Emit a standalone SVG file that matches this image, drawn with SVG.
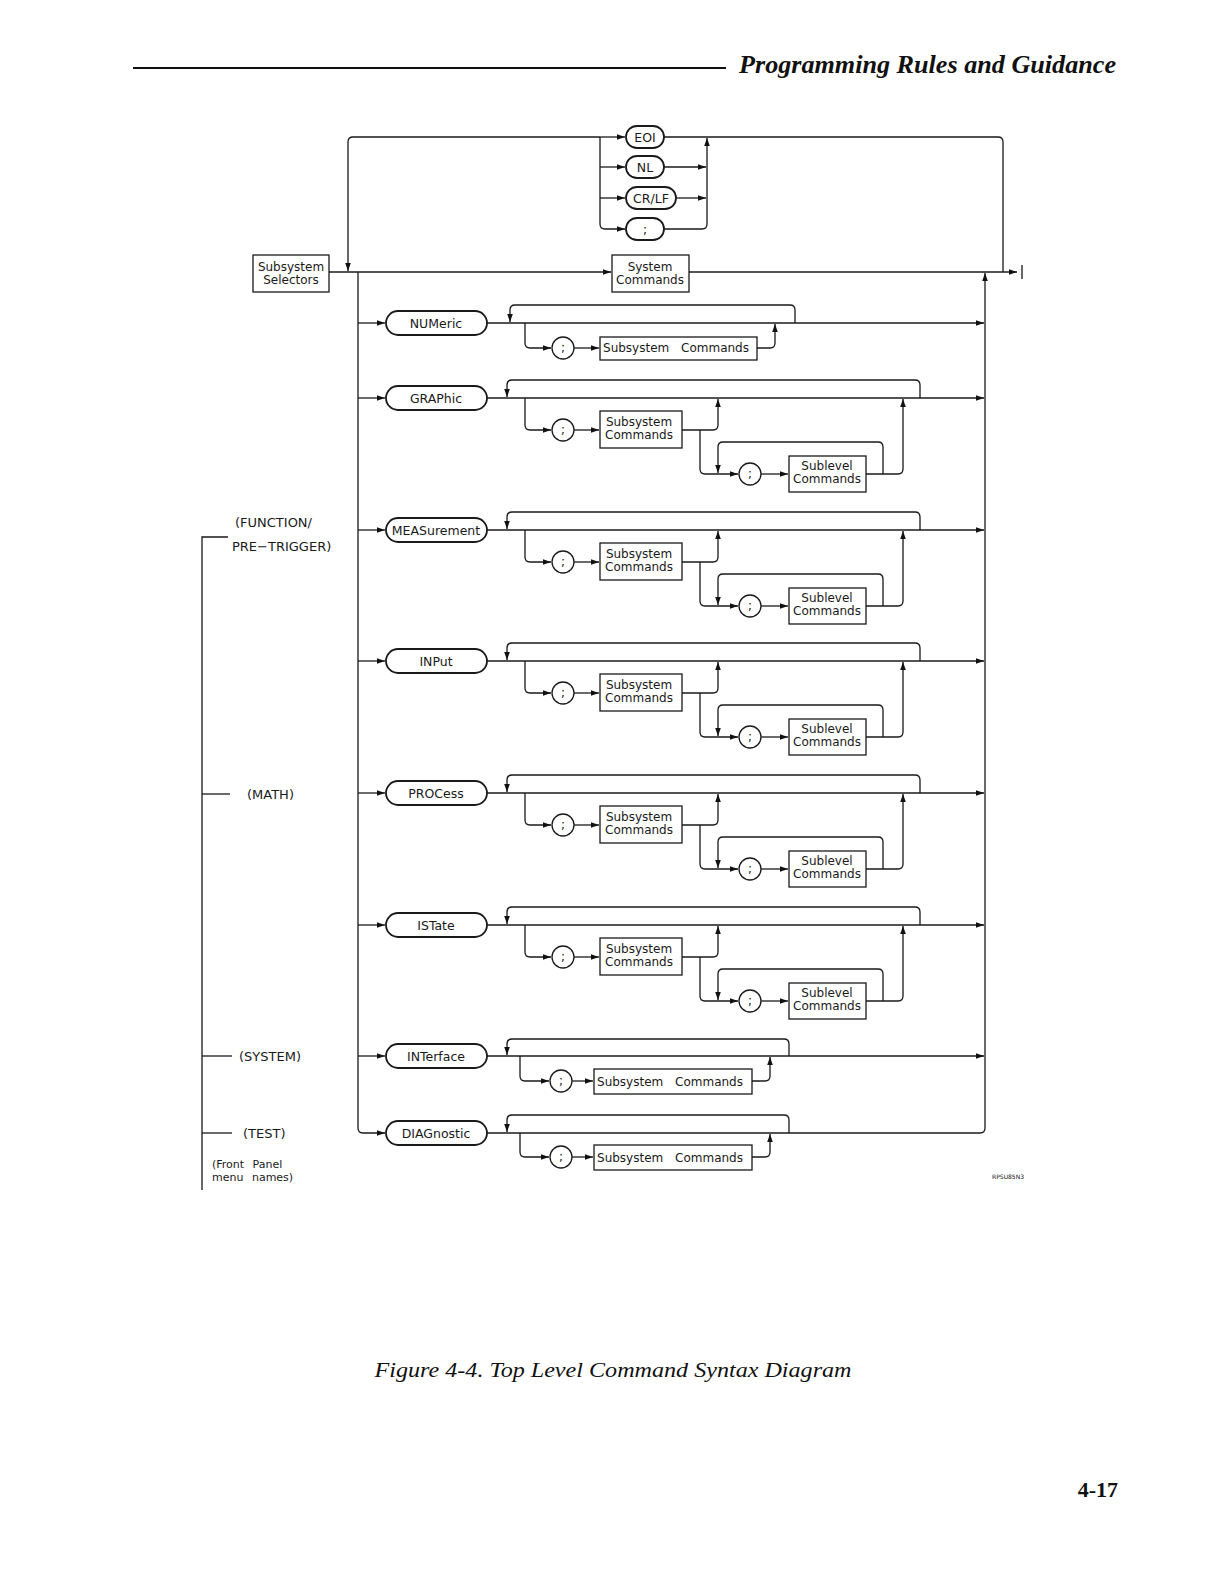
<svg xmlns="http://www.w3.org/2000/svg" width="1224" height="1584" viewBox="0 0 1224 1584">
<defs>
<marker id="ar" viewBox="0 0 10 10" refX="10" refY="5" markerWidth="8" markerHeight="8" markerUnits="userSpaceOnUse" orient="auto"><path d="M0,1.5 L10,5 L0,8.5 z" fill="#111"/></marker>
<style>
.ln{fill:none;stroke:#1a1a1a;stroke-width:1.3}
.a{marker-end:url(#ar)}
.bx{fill:#fff;stroke:#1a1a1a;stroke-width:1.3}
.pl{fill:#fff;stroke:#1a1a1a;stroke-width:1.8}
.t{font-family:"DejaVu Sans",sans-serif;font-size:12px;fill:#1a1a1a;text-anchor:middle}
.tp{font-family:"DejaVu Sans",sans-serif;font-size:12.5px;fill:#1a1a1a;text-anchor:middle}
.tl{font-family:"DejaVu Sans",sans-serif;font-size:13px;fill:#1a1a1a}
.ts{font-family:"DejaVu Sans",sans-serif;font-size:11px;fill:#1a1a1a}
</style>
</defs>
<rect width="1224" height="1584" fill="#fff"/>

<!-- header -->
<line x1="133" y1="68" x2="726" y2="68" stroke="#111" stroke-width="2"/>
<text x="1116" y="73" text-anchor="end" font-family="Liberation Serif, serif" font-style="italic" font-weight="bold" font-size="26" textLength="377" lengthAdjust="spacingAndGlyphs" fill="#111">Programming Rules and Guidance</text>

<g id="connectors">
<!-- top section -->
<path class="ln a" d="M329 272 H611"/>
<path class="ln a" d="M689 272 H1017"/>
<path class="ln" d="M1022 265 V279"/>
<path class="ln" d="M664 137 H998 Q1003 137 1003 142 V272"/>
<path class="ln a" d="M600 137 H353 Q348 137 348 142 V271"/>
<path class="ln a" d="M600 137 H625"/>
<path class="ln a" d="M600 137 V224 Q600 229 605 229 H625"/>
<path class="ln a" d="M600 167 H625"/>
<path class="ln a" d="M600 198 H625"/>
<path class="ln a" d="M664 167 H706"/>
<path class="ln a" d="M676 198 H706"/>
<path class="ln a" d="M664 229 H702 Q707 229 707 224 V138"/>
<!-- left distribution -->
<path class="ln a" d="M358 272 V1128 Q358 1133 363 1133 H385"/>
<path class="ln a" d="M358 323 H385"/>
<path class="ln a" d="M358 398 H385"/>
<path class="ln a" d="M358 530 H385"/>
<path class="ln a" d="M358 661 H385"/>
<path class="ln a" d="M358 793 H385"/>
<path class="ln a" d="M358 925 H385"/>
<path class="ln a" d="M358 1056 H385"/>
<!-- right collector -->
<path class="ln a" d="M487 1133 H980 Q985 1133 985 1128 V273"/>

<!-- NUMeric row -->
<path class="ln a" d="M487 323 H984"/>
<path class="ln a" d="M795 323 V310 Q795 305 790 305 H515 Q510 305 510 310 V322"/>
<path class="ln a" d="M525 323 V343 Q525 348 530 348 H551"/>
<path class="ln a" d="M574 348 H599"/>
<path class="ln a" d="M757 348 H770 Q775 348 775 343 V324"/>

<!-- GRAPhic row y0=398 -->
<path class="ln a" d="M487 398 H984"/>
<path class="ln a" d="M920 398 V385 Q920 380 915 380 H512 Q507 380 507 385 V397"/>
<path class="ln a" d="M525 398 V425 Q525 430 530 430 H551"/>
<path class="ln a" d="M574 430 H599"/>
<path class="ln a" d="M682 430 H713 Q718 430 718 425 V399"/>
<path class="ln a" d="M700 430 V469 Q700 474 705 474 H738"/>
<path class="ln a" d="M761 474 H788"/>
<path class="ln a" d="M866 474 H898 Q903 474 903 469 V399"/>
<path class="ln a" d="M883 474 V447 Q883 442 878 442 H723 Q718 442 718 447 V473"/>

<!-- MEASurement row y0=530 -->
<path class="ln a" d="M487 530 H984"/>
<path class="ln a" d="M920 530 V517 Q920 512 915 512 H512 Q507 512 507 517 V529"/>
<path class="ln a" d="M525 530 V557 Q525 562 530 562 H551"/>
<path class="ln a" d="M574 562 H599"/>
<path class="ln a" d="M682 562 H713 Q718 562 718 557 V531"/>
<path class="ln a" d="M700 562 V601 Q700 606 705 606 H738"/>
<path class="ln a" d="M761 606 H788"/>
<path class="ln a" d="M866 606 H898 Q903 606 903 601 V531"/>
<path class="ln a" d="M883 606 V579 Q883 574 878 574 H723 Q718 574 718 579 V605"/>

<!-- INPut row y0=661 -->
<path class="ln a" d="M487 661 H984"/>
<path class="ln a" d="M920 661 V648 Q920 643 915 643 H512 Q507 643 507 648 V660"/>
<path class="ln a" d="M525 661 V688 Q525 693 530 693 H551"/>
<path class="ln a" d="M574 693 H599"/>
<path class="ln a" d="M682 693 H713 Q718 693 718 688 V662"/>
<path class="ln a" d="M700 693 V732 Q700 737 705 737 H738"/>
<path class="ln a" d="M761 737 H788"/>
<path class="ln a" d="M866 737 H898 Q903 737 903 732 V662"/>
<path class="ln a" d="M883 737 V710 Q883 705 878 705 H723 Q718 705 718 710 V736"/>

<!-- PROCess row y0=793 -->
<path class="ln a" d="M487 793 H984"/>
<path class="ln a" d="M920 793 V780 Q920 775 915 775 H512 Q507 775 507 780 V792"/>
<path class="ln a" d="M525 793 V820 Q525 825 530 825 H551"/>
<path class="ln a" d="M574 825 H599"/>
<path class="ln a" d="M682 825 H713 Q718 825 718 820 V794"/>
<path class="ln a" d="M700 825 V864 Q700 869 705 869 H738"/>
<path class="ln a" d="M761 869 H788"/>
<path class="ln a" d="M866 869 H898 Q903 869 903 864 V794"/>
<path class="ln a" d="M883 869 V842 Q883 837 878 837 H723 Q718 837 718 842 V868"/>

<!-- ISTate row y0=925 -->
<path class="ln a" d="M487 925 H984"/>
<path class="ln a" d="M920 925 V912 Q920 907 915 907 H512 Q507 907 507 912 V924"/>
<path class="ln a" d="M525 925 V952 Q525 957 530 957 H551"/>
<path class="ln a" d="M574 957 H599"/>
<path class="ln a" d="M682 957 H713 Q718 957 718 952 V926"/>
<path class="ln a" d="M700 957 V996 Q700 1001 705 1001 H738"/>
<path class="ln a" d="M761 1001 H788"/>
<path class="ln a" d="M866 1001 H898 Q903 1001 903 996 V926"/>
<path class="ln a" d="M883 1001 V974 Q883 969 878 969 H723 Q718 969 718 974 V1000"/>

<!-- INTerface row -->
<path class="ln a" d="M487 1056 H984"/>
<path class="ln a" d="M789 1056 V1044 Q789 1039 784 1039 H512 Q507 1039 507 1044 V1055"/>
<path class="ln a" d="M520 1056 V1076 Q520 1081 525 1081 H549"/>
<path class="ln a" d="M572 1081 H593"/>
<path class="ln a" d="M752 1081 H765 Q770 1081 770 1076 V1057"/>

<!-- DIAGnostic row -->
<path class="ln a" d="M789 1133 V1120 Q789 1115 784 1115 H512 Q507 1115 507 1120 V1132"/>
<path class="ln a" d="M520 1133 V1152 Q520 1157 525 1157 H549"/>
<path class="ln a" d="M572 1157 H593"/>
<path class="ln a" d="M752 1157 H765 Q770 1157 770 1152 V1134"/>

<!-- front panel menu bracket -->
<path class="ln" d="M228 537 H202 V1190"/>
<path class="ln" d="M202 794 H230"/>
<path class="ln" d="M202 1056 H232"/>
<path class="ln" d="M202 1133 H232"/>
</g>

<!-- top nodes -->
<g id="subsystem-selectors"><rect class="bx" x="253" y="255" width="76" height="37"/><text class="t" x="291" y="271">Subsystem</text><text class="t" x="291" y="284">Selectors</text></g>
<g id="system-commands"><rect class="bx" x="612" y="255" width="77" height="37"/><text class="t" x="650" y="271">System</text><text class="t" x="650" y="284">Commands</text></g>
<g id="eoi"><rect class="pl" x="626" y="126" width="38" height="22" rx="11"/><text class="tp" x="645" y="142">EOI</text></g>
<g id="nl"><rect class="pl" x="626" y="156" width="38" height="22" rx="11"/><text class="tp" x="645" y="172">NL</text></g>
<g id="crlf"><rect class="pl" x="626" y="187" width="50" height="22" rx="11"/><text class="tp" x="651" y="203">CR/LF</text></g>
<g id="semi-top"><rect class="pl" x="626" y="218" width="38" height="22" rx="11"/><text class="tp" x="645" y="234">;</text></g>

<!-- NUMeric -->
<g id="numeric"><rect class="pl" x="386" y="311" width="101" height="24" rx="12"/><text class="tp" x="436" y="328">NUMeric</text></g>
<g id="numeric-semi"><circle class="bx" cx="563" cy="348" r="11"/><text class="t" x="563" y="352">;</text></g>
<g id="numeric-sub"><rect class="bx" x="600" y="337" width="157" height="23"/><text class="t" x="676" y="352" word-spacing="8">Subsystem Commands</text></g>

<!-- GRAPhic -->
<g id="graphic"><rect class="pl" x="386" y="386" width="101" height="24" rx="12"/><text class="tp" x="436" y="403">GRAPhic</text></g>
<g id="graphic-semi1"><circle class="bx" cx="563" cy="430" r="11"/><text class="t" x="563" y="434">;</text></g>
<g id="graphic-sub"><rect class="bx" x="600" y="411" width="82" height="37"/><text class="t" x="639" y="426">Subsystem</text><text class="t" x="639" y="439">Commands</text></g>
<g id="graphic-semi2"><circle class="bx" cx="750" cy="474" r="11"/><text class="t" x="750" y="478">;</text></g>
<g id="graphic-sublevel"><rect class="bx" x="789" y="456" width="77" height="36"/><text class="t" x="827" y="470">Sublevel</text><text class="t" x="827" y="483">Commands</text></g>

<!-- MEASurement -->
<g id="measurement"><rect class="pl" x="386" y="518" width="101" height="24" rx="12"/><text class="tp" x="436" y="535">MEASurement</text></g>
<g id="measurement-semi1"><circle class="bx" cx="563" cy="562" r="11"/><text class="t" x="563" y="566">;</text></g>
<g id="measurement-sub"><rect class="bx" x="600" y="543" width="82" height="37"/><text class="t" x="639" y="558">Subsystem</text><text class="t" x="639" y="571">Commands</text></g>
<g id="measurement-semi2"><circle class="bx" cx="750" cy="606" r="11"/><text class="t" x="750" y="610">;</text></g>
<g id="measurement-sublevel"><rect class="bx" x="789" y="588" width="77" height="36"/><text class="t" x="827" y="602">Sublevel</text><text class="t" x="827" y="615">Commands</text></g>

<!-- INPut -->
<g id="input"><rect class="pl" x="386" y="649" width="101" height="24" rx="12"/><text class="tp" x="436" y="666">INPut</text></g>
<g id="input-semi1"><circle class="bx" cx="563" cy="693" r="11"/><text class="t" x="563" y="697">;</text></g>
<g id="input-sub"><rect class="bx" x="600" y="674" width="82" height="37"/><text class="t" x="639" y="689">Subsystem</text><text class="t" x="639" y="702">Commands</text></g>
<g id="input-semi2"><circle class="bx" cx="750" cy="737" r="11"/><text class="t" x="750" y="741">;</text></g>
<g id="input-sublevel"><rect class="bx" x="789" y="719" width="77" height="36"/><text class="t" x="827" y="733">Sublevel</text><text class="t" x="827" y="746">Commands</text></g>

<!-- PROCess -->
<g id="process"><rect class="pl" x="386" y="781" width="101" height="24" rx="12"/><text class="tp" x="436" y="798">PROCess</text></g>
<g id="process-semi1"><circle class="bx" cx="563" cy="825" r="11"/><text class="t" x="563" y="829">;</text></g>
<g id="process-sub"><rect class="bx" x="600" y="806" width="82" height="37"/><text class="t" x="639" y="821">Subsystem</text><text class="t" x="639" y="834">Commands</text></g>
<g id="process-semi2"><circle class="bx" cx="750" cy="869" r="11"/><text class="t" x="750" y="873">;</text></g>
<g id="process-sublevel"><rect class="bx" x="789" y="851" width="77" height="36"/><text class="t" x="827" y="865">Sublevel</text><text class="t" x="827" y="878">Commands</text></g>

<!-- ISTate -->
<g id="istate"><rect class="pl" x="386" y="913" width="101" height="24" rx="12"/><text class="tp" x="436" y="930">ISTate</text></g>
<g id="istate-semi1"><circle class="bx" cx="563" cy="957" r="11"/><text class="t" x="563" y="961">;</text></g>
<g id="istate-sub"><rect class="bx" x="600" y="938" width="82" height="37"/><text class="t" x="639" y="953">Subsystem</text><text class="t" x="639" y="966">Commands</text></g>
<g id="istate-semi2"><circle class="bx" cx="750" cy="1001" r="11"/><text class="t" x="750" y="1005">;</text></g>
<g id="istate-sublevel"><rect class="bx" x="789" y="983" width="77" height="36"/><text class="t" x="827" y="997">Sublevel</text><text class="t" x="827" y="1010">Commands</text></g>

<!-- INTerface -->
<g id="interface"><rect class="pl" x="386" y="1044" width="101" height="24" rx="12"/><text class="tp" x="436" y="1061">INTerface</text></g>
<g id="interface-semi"><circle class="bx" cx="561" cy="1081" r="11"/><text class="t" x="561" y="1085">;</text></g>
<g id="interface-sub"><rect class="bx" x="594" y="1069" width="158" height="25"/><text class="t" x="670" y="1086" word-spacing="8">Subsystem Commands</text></g>

<!-- DIAGnostic -->
<g id="diagnostic"><rect class="pl" x="386" y="1121" width="101" height="24" rx="12"/><text class="tp" x="436" y="1138">DIAGnostic</text></g>
<g id="diagnostic-semi"><circle class="bx" cx="561" cy="1157" r="11"/><text class="t" x="561" y="1161">;</text></g>
<g id="diagnostic-sub"><rect class="bx" x="594" y="1145" width="158" height="25"/><text class="t" x="670" y="1162" word-spacing="8">Subsystem Commands</text></g>

<!-- left labels -->
<g id="menu-labels">
<text class="tl" x="235" y="527">(FUNCTION/</text>
<text class="tl" x="232" y="551">PRE−TRIGGER)</text>
<text class="tl" x="247" y="799">(MATH)</text>
<text class="tl" x="239" y="1061">(SYSTEM)</text>
<text class="tl" x="243" y="1138">(TEST)</text>
<text class="ts" x="212" y="1168" word-spacing="5">(Front Panel</text>
<text class="ts" x="212" y="1181" word-spacing="5">menu names)</text>
</g>

<text x="1024" y="1179" text-anchor="end" font-family="DejaVu Sans, sans-serif" font-size="6" fill="#111">RPSU85N3</text>

<text x="613" y="1377" text-anchor="middle" font-family="Liberation Serif, serif" font-style="italic" font-size="22" textLength="477" lengthAdjust="spacingAndGlyphs" fill="#111">Figure 4-4. Top Level Command Syntax Diagram</text>
<text x="1118" y="1497" text-anchor="end" font-family="Liberation Serif, serif" font-weight="bold" font-size="22" fill="#111">4-17</text>
</svg>
